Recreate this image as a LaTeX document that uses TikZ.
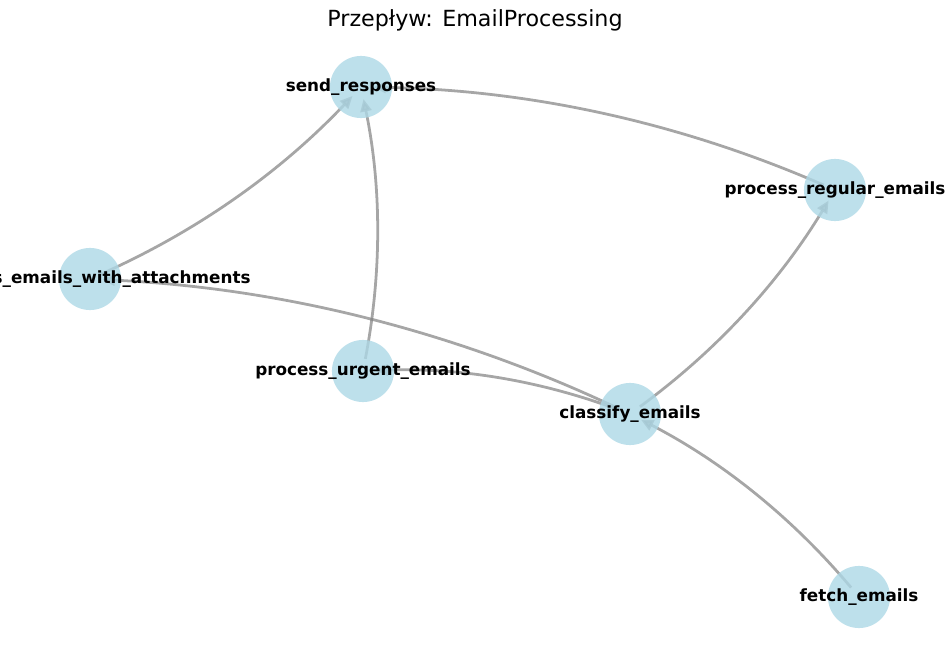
\documentclass[tikz,border=0pt]{standalone}
\usepackage{fontspec}
\setmainfont{DejaVu Sans}
\usetikzlibrary{arrows.meta}
\definecolor{lightblue}{RGB}{173,216,230}
\tikzset{
  core/.style={circle,minimum size=17.3pt,inner sep=0pt},
  ball/.style={circle,fill=lightblue,fill opacity=0.8,minimum size=44.7pt,inner sep=0pt},
  lbl/.style={font=\fontsize{12.1}{14}\selectfont\bfseries},
  flow/.style={line width=2pt,gray,opacity=0.7,-{Triangle[length=9pt,width=8pt]},bend right=11.3,looseness=0.87},
}

\begin{document}
\begin{tikzpicture}[x=0.72pt,y=0.72pt]
            \useasboundingbox (0,0) rectangle (950,660);
            \clip (0,0) rectangle (950,660);
            \node[core] (send) at (361,573) {};
            \node[core] (regular) at (835,470) {};
            \node[core] (attach) at (90,381) {};
            \node[core] (urgent) at (363,289) {};
            \node[core] (classify) at (630,246) {};
            \node[core] (fetch) at (859,63) {};
            \draw[flow] (fetch) to (classify);
            \draw[flow] (classify) to (regular);
            \draw[flow] (classify) to (urgent);
            \draw[flow] (classify) to (attach);
            \draw[flow] (regular) to (send);
            \draw[flow] (urgent) to (send);
            \draw[flow] (attach) to (send);
            \foreach \n in {send,regular,attach,urgent,classify,fetch}
              \node[ball] at (\n) {};
            \node[lbl] at (send) {send\_responses};
            \node[lbl] at (regular) {process\_regular\_emails};
            \node[lbl] at (attach) {process\_emails\_with\_attachments};
            \node[lbl] at (urgent) {process\_urgent\_emails};
            \node[lbl] at (classify) {classify\_emails};
            \node[lbl] at (fetch) {fetch\_emails};
            \node[font=\fontsize{16}{19}\selectfont] (title) at (475,640) {Przepływ: EmailProcessing};
          \end{tikzpicture}
\end{document}
